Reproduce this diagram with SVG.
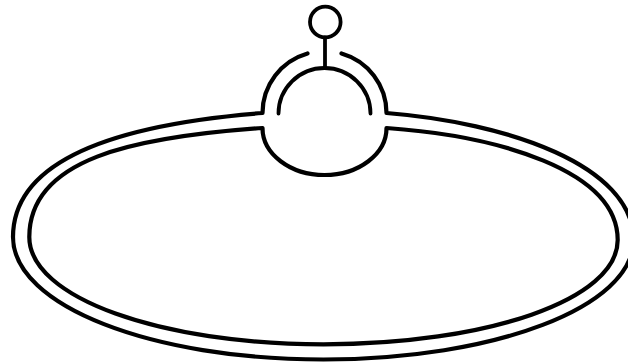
<svg xmlns="http://www.w3.org/2000/svg" width="628" height="363" viewBox="0 0 628 363">
  <style>
    .ln { fill: none; stroke: #000; stroke-linecap: round; stroke-linejoin: round; }
    .thick { stroke-width: 4.2; }
    .mid { stroke-width: 3.8; }
  </style>
  <rect x="0" y="0" width="628" height="363" fill="#fff"/>
  <g id="outer-ring">
    <path class="ln thick" d="M 307.5 53.4 A 62 62 0 0 0 262.5 113 C 122.7 124, 13 157, 13 237 C 13 306, 152 359.5, 323.5 359.5 C 494.7 359.5, 633.5 307, 633.5 240 C 633.5 165, 506.7 122.6, 386.5 113 A 62 62 0 0 0 341.5 53.4"/>
  </g>
  <g id="inner-ring">
    <path class="ln thick" d="M 262.5 128 A 62 47 0 0 0 386.5 128 C 496.7 135.7, 617.7 170, 617.7 240 C 617.7 300, 486 344.3, 323.5 344.3 C 161 344.3, 29.3 298, 29.3 237 C 29.3 159, 132.7 137.1, 262.5 128 Z"/>
  </g>
  <g id="dome">
    <path class="ln mid" d="M 278.5 113.5 A 46 45.5 0 0 1 370.5 113.5"/>
  </g>
  <g id="connectors">
    <path class="ln mid" d="M 325 37.5 V 68"/>
  </g>
  <g id="knob">
    <circle class="ln mid" cx="325.3" cy="22" r="15.3"/>
  </g>
</svg>
